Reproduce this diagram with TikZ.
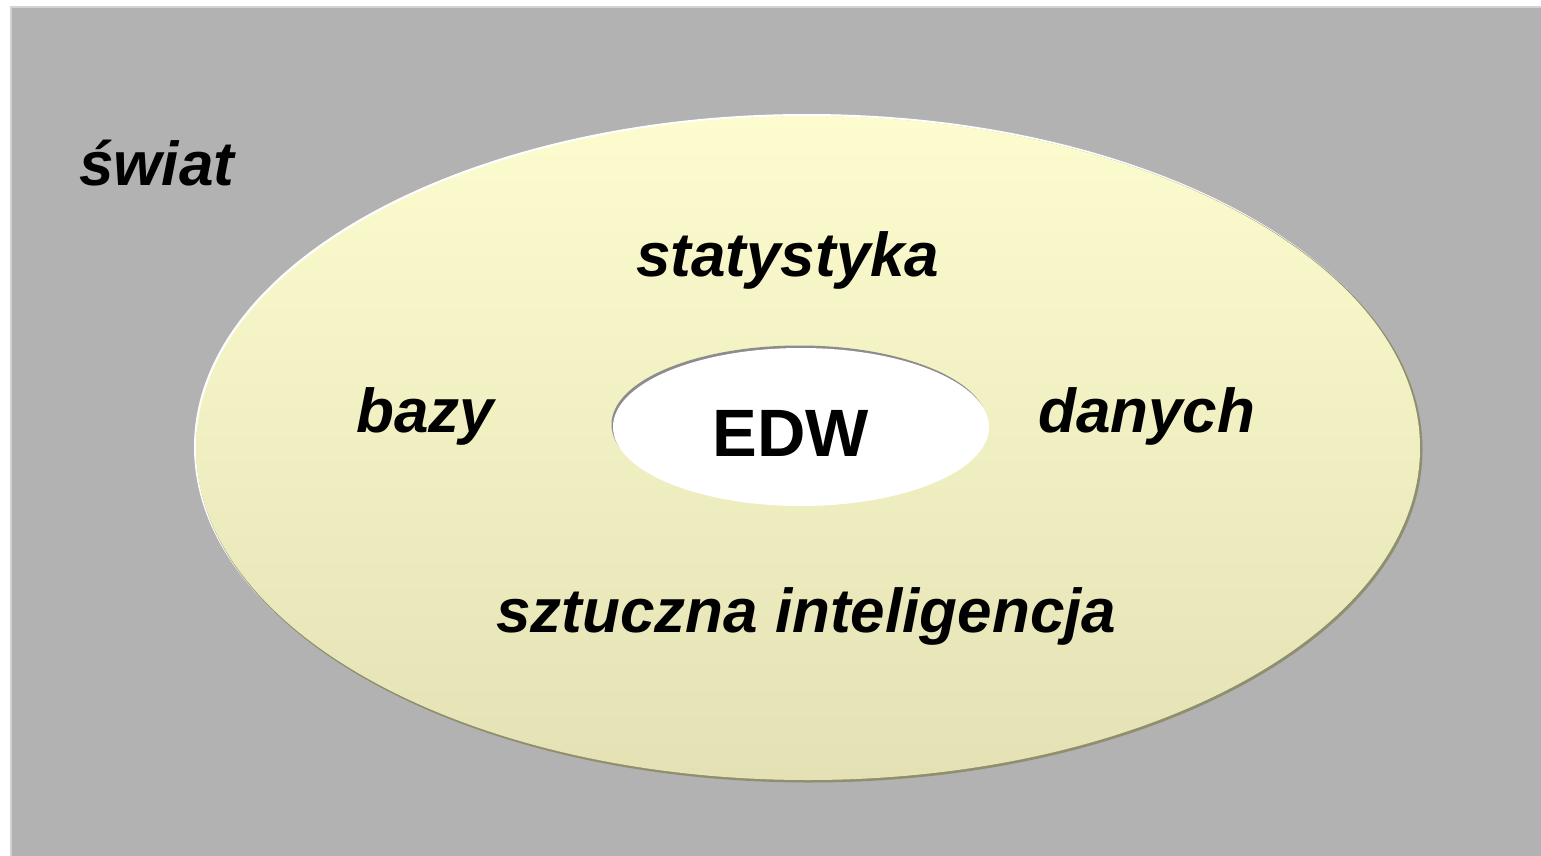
\documentclass[tikz,border=0pt]{standalone}
\usepackage{fontspec}
\setmainfont{Liberation Sans}
\definecolor{worldgray}{HTML}{B2B2B2}
\definecolor{worldedge}{HTML}{D2D2D2}
\definecolor{fieldtop}{HTML}{FCFCCE}
\definecolor{fieldbottom}{HTML}{E4E2B4}
\definecolor{fieldshadow}{HTML}{8F8F70}
\definecolor{coreshadow}{HTML}{8C8C8C}
\tikzset{
  label/.style={anchor=base west, inner sep=0pt, font=\fontsize{62}{62}\selectfont\bfseries\itshape, text=black},
  corelabel/.style={anchor=base, inner sep=0pt, font=\fontsize{67}{67}\selectfont\bfseries, text=black}
}
\begin{document}
\begin{tikzpicture}[x=1pt,y=-1pt]
  \useasboundingbox (0,0) rectangle (1541,856);
  \fill[white] (0,0) rectangle (1541,856);
  % world background with light edge
  \fill[worldedge] (10,6) rectangle (1560,870);
  \fill[worldgray] (12,8) rectangle (1560,870);
  % outer field ellipse: raised edge
  \fill[white] (807,447) ellipse [x radius=613, y radius=333];
  \fill[fieldshadow] (809.5,449.5) ellipse [x radius=613, y radius=333];
  \shade[top color=fieldtop, bottom color=fieldbottom] (808,448) ellipse [x radius=612, y radius=332];
  % inner core ellipse: sunken edge
  \fill[coreshadow] (799.5,424.5) ellipse [x radius=188, y radius=79];
  \fill[white] (801,427) ellipse [x radius=188, y radius=79];
  % labels
  \node[label] (swiat) at (79,185) {świat};
  \node[label] (stat) at (636,276) {statystyka};
  \node[label] (bazy) at (356,432) {bazy};
  \node[label] (danych) at (1038,432) {danych};
  \node[label] (si) at (496,632) {sztuczna inteligencja};
  \node[corelabel] (edw) at (791,456) {EDW};
\end{tikzpicture}
\end{document}
